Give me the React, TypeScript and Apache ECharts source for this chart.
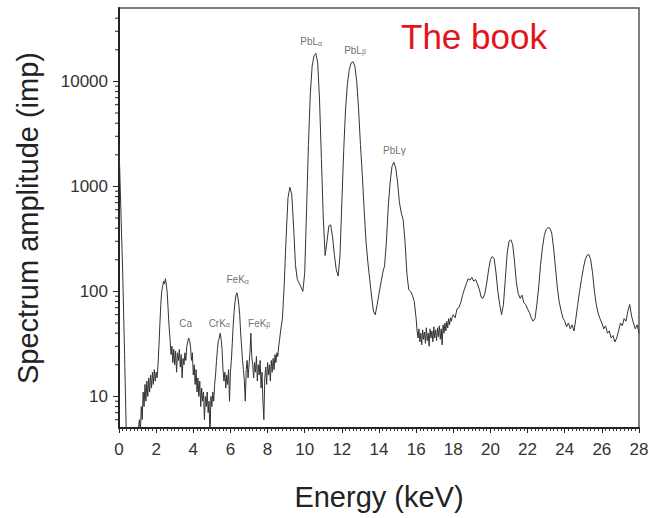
import React, { useEffect, useRef } from "react";
import * as echarts from "echarts";

// Spectrum in segments: each has a start energy (keV),
// a step (keV) and amplitudes (imp).
const segA_start = 0.0;
const segA_step = 0.1;
const segA: number[] = [2500, 600, 150, 25, 4, 3, 3, 3, 3, 3];

const segB_start = 1.0;
const segB_step = 0.05;
const segB: number[] = [
  4, 5, 6, 4.5, 8, 6, 11, 8, 13, 9, // 1.00-1.45
  14, 10, 15, 11, 16, 12, 17, 13, 18, 14, // 1.50-1.95
  17, 15, 20, 30, 48, 75, 100, 112, 125, 118, // 2.00-2.45
  132, 115, 95, 65, 45, 35, 25, 30, 21, 28, // 2.50-2.95
  20, 27, 17, 26, 22, 28, 19, 25, 15, 23, // 3.00-3.45
  20, 26, 22, 30, 33, 36, 34, 30, 22, 26, // 3.50-3.95
  16, 20, 13, 18, 11, 15, 10, 14, 8, 12, // 4.00-4.45
  9, 11, 6, 10, 8, 11, 7, 9, 4, 10, // 4.50-4.95
  8, 11, 9, 13, 16, 22, 28, 34, 36, 40, // 5.00-5.45
  35, 28, 18, 14, 17, 12, 16, 13, 18, 9, // 5.50-5.95
  17, 22, 32, 48, 65, 80, 92, 97, 88, 75, // 6.00-6.45
  60, 40, 30, 22, 18, 14, 9, 18, 22, 15, // 6.50-6.95
  20, 26, 40, 24, 20, 15, 21, 17, 24, 14, // 7.00-7.45
  20, 16, 22, 12, 17, 9, 6, 15, 19, 13, // 7.50-7.95
  21, 16, 20, 14, 22, 17, 23, 18, 25, 21, // 8.00-8.45
  26, 24, 30, 35, 42, 48, 55, 80, 120, 200, // 8.50-8.95
];

const segC_start = 9.0;
const segC_step = 0.1;
const segC: number[] = [
  330, 780, 980, 850, 420, 180, 130, 120, 110, 100, // 9.0-9.9
  150, 600, 2500, 7500, 14000, 17500, 18500, 15000, 6500, 1800, // 10.0-10.9
  500, 220, 300, 420, 430, 330, 220, 160, 140, 220, // 11.0-11.9
  700, 2200, 5500, 9500, 13000, 15000, 15400, 14000, 10000, 5500, // 12.0-12.9
  2500, 1300, 600, 300, 190, 130, 90, 65, 60, 75, // 13.0-13.9
  95, 120, 150, 175, 300, 650, 1100, 1550, 1700, 1500, // 14.0-14.9
  1100, 700, 560, 480, 300, 150, 104, 100, 92, 80, // 15.0-15.9
];

const segD_start = 16.0;
const segD_step = 0.05;
const segD: number[] = [
  55, 42, 36, 44, 33, 40, 31, 43, 35, 41, // 16.00-16.45
  32, 45, 34, 40, 30, 44, 36, 42, 33, 46, // 16.50-16.95
  36, 43, 34, 45, 37, 47, 35, 44, 31, 48, // 17.00-17.45
  40, 50, 42, 52, 45, 55, 48, 56, 52, 58, // 17.50-17.95
];

const segE_start = 18.0;
const segE_step = 0.1;
const segE: number[] = [
  60, 56, 68, 70, 78, 92, 105, 118, 132, 128, // 18.0-18.9
  136, 125, 130, 118, 105, 88, 86, 95, 120, 160, // 19.0-19.9
  200, 215, 205, 150, 100, 75, 60, 75, 130, 230, // 20.0-20.9
  300, 310, 280, 190, 120, 95, 86, 92, 78, 75, // 21.0-21.9
  68, 63, 56, 52, 55, 75, 110, 180, 260, 340, // 22.0-22.9
  390, 405, 400, 360, 260, 170, 110, 80, 66, 56, // 23.0-23.9
  52, 46, 50, 44, 48, 42, 55, 75, 100, 130, // 24.0-24.9
  165, 200, 220, 225, 200, 150, 100, 75, 62, 55, // 25.0-25.9
  50, 44, 47, 40, 42, 36, 38, 33, 36, 42, // 26.0-26.9
  50, 47, 55, 52, 65, 75, 58, 50, 44, 48, 40, // 27.0-28.0
];

// Peak annotations: [energy keV, amplitude position, element/line, subscript]
const peakLabels: [number, number, string, string][] = [
  [10.35, 23900, "PbL", "α"],
  [12.71, 19700, "PbL", "β"],
  [14.83, 2220, "PbLγ", ""],
  [6.39, 129, "FeK", "α"],
  [3.59, 50, "Ca", ""],
  [5.4, 50, "CrK", "α"],
  [7.55, 50, "FeK", "β"],
];

// Log-axis minor tick values (2..9 × decade)
const yMinorTicks: number[] = [
  6, 7, 8, 9,
  20, 30, 40, 50, 60, 70, 80, 90,
  200, 300, 400, 500, 600, 700, 800, 900,
  2000, 3000, 4000, 5000, 6000, 7000, 8000, 9000,
  20000, 30000, 40000,
];

const xMin = 0;
const xMax = 28;
const xInterval = 2;
const yMin = 5;
const yMax = 50000;

const xTitle = "Energy (keV)";
const yTitle = "Spectrum amplitude (imp)";
const stampText = "The book";

const FONT = '"Liberation Sans", Arial, Helvetica, sans-serif';

function toPoints(start: number, step: number, values: number[]) {
  return values.map((v, i) => [+(start + i * step).toFixed(3), v]);
}

export default function App() {
  const ref = useRef<HTMLDivElement>(null);

  useEffect(() => {
    if (!ref.current) return;
    const chart = echarts.init(ref.current, null, { renderer: "svg" });

    const lineData = [
      ...toPoints(segA_start, segA_step, segA),
      ...toPoints(segB_start, segB_step, segB),
      ...toPoints(segC_start, segC_step, segC),
      ...toPoints(segD_start, segD_step, segD),
      ...toPoints(segE_start, segE_step, segE),
    ];

    const option: any = {
      animation: false,
      backgroundColor: "#ffffff",
      grid: {
        left: 119,
        right: 10,
        top: 8,
        bottom: 90,
        show: true,
        borderColor: "#555",
        borderWidth: 1.5,
        backgroundColor: "transparent",
        outerBoundsMode: "none",
      },
      xAxis: {
        type: "value",
        min: xMin,
        max: xMax,
        interval: xInterval,
        name: xTitle,
        nameLocation: "middle",
        nameGap: 54,
        nameTextStyle: { fontFamily: FONT, fontSize: 29, color: "#222" },
        axisLine: { show: true, lineStyle: { color: "#222", width: 2 } },
        axisTick: { show: true, inside: false, length: 5, lineStyle: { color: "#222", width: 1 } },
        minorTick: { show: true, splitNumber: 10, length: 3, lineStyle: { color: "#333", width: 1 } },
        axisLabel: { fontFamily: FONT, fontSize: 17, color: "#333", margin: 13 },
        splitLine: { show: false },
      },
      yAxis: {
        type: "log",
        logBase: 10,
        min: yMin,
        max: yMax,
        name: yTitle,
        nameLocation: "middle",
        nameGap: 77,
        nameTextStyle: { fontFamily: FONT, fontSize: 29, color: "#222" },
        axisLine: { show: true, lineStyle: { color: "#222", width: 2 } },
        axisTick: { show: true, inside: false, length: 6, lineStyle: { color: "#222", width: 1 } },
        axisLabel: {
          fontFamily: FONT,
          fontSize: 17,
          color: "#333",
          margin: 11,
          showMinLabel: false,
          showMaxLabel: false,
          formatter: (v: number) => String(Math.round(v)),
        },
        splitLine: { show: false },
      },
      graphic: [
        {
          type: "text",
          x: 401,
          y: 36,
          style: {
            text: stampText,
            fill: "#e3141c",
            font: `35px ${FONT}`,
            align: "left",
            verticalAlign: "middle",
          },
        },
      ],
      series: [
        {
          type: "line",
          data: lineData,
          showSymbol: false,
          symbol: "none",
          clip: true,
          lineStyle: { color: "#333", width: 1 },
          z: 3,
        },
        {
          type: "scatter",
          symbolSize: 0,
          data: peakLabels.map((p) => ({ value: [p[0], p[1]], main: p[2], sub: p[3] })),
          label: {
            show: true,
            position: "inside",
            formatter: (params: any) =>
              params.data.sub ? `${params.data.main}{s|${params.data.sub}}` : params.data.main,
            fontFamily: FONT,
            fontSize: 10,
            color: "#4a4a4a",
            textBorderWidth: 0,
            rich: {
              s: { fontFamily: FONT, fontSize: 7, color: "#4a4a4a", padding: [3, 0, 0, 0] },
            },
          },
          z: 4,
        },
        {
          type: "custom",
          coordinateSystem: "cartesian2d",
          data: yMinorTicks.map((v) => [xMin, v]),
          renderItem: (params: any, api: any) => {
            const p = api.coord([api.value(0), api.value(1)]);
            return {
              type: "line",
              shape: { x1: p[0] - 4, y1: p[1], x2: p[0], y2: p[1] },
              style: { stroke: "#222", lineWidth: 1 },
            };
          },
          clip: false,
          silent: true,
          z: 5,
        },
      ],
    };

    chart.setOption(option);
    return () => chart.dispose();
  }, []);

  return (
    <div
      ref={ref}
      style={{ position: "absolute", left: 0, top: 0, width: 649, height: 518 }}
    />
  );
}
